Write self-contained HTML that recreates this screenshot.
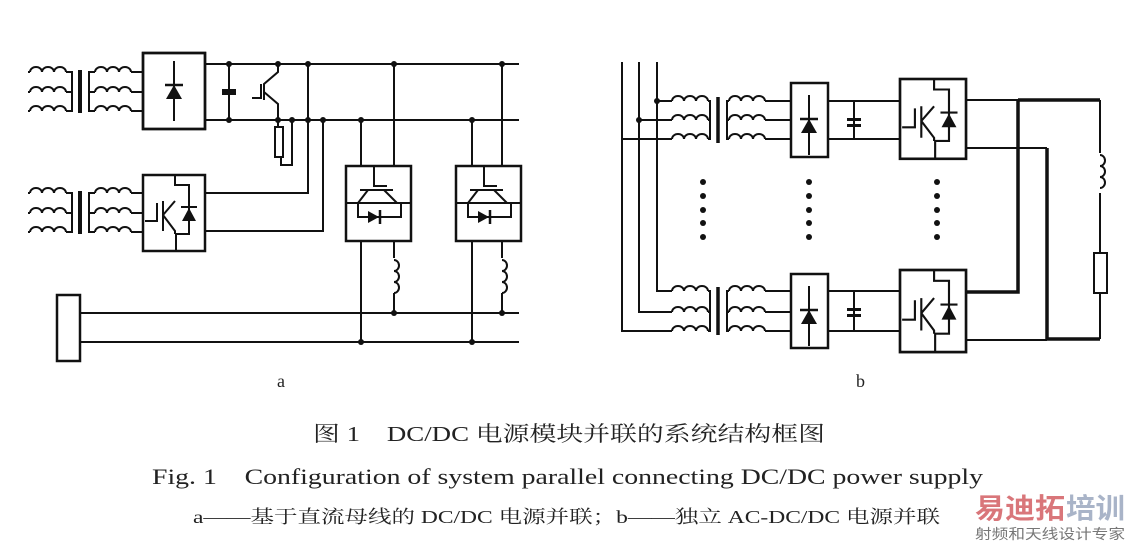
<!DOCTYPE html>
<html><head><meta charset="utf-8"><style>
html,body{margin:0;padding:0;background:#fff;}
svg{display:block}
text{font-family:"Liberation Serif","Noto Serif CJK SC",serif;fill:#222}
</style></head><body>
<svg width="1129" height="543" viewBox="0 0 1129 543" xmlns="http://www.w3.org/2000/svg">
<defs>
<g id="coil"><path d="M0 0 a6 5 0 0 1 12 0 a6 5 0 0 1 12 0 a6 5 0 0 1 12 0" fill="none" stroke="#111" stroke-width="2"/></g>
<g id="xfL">
 <!-- primary -->
 <path d="M0 0 h2 M0 20 h2 M0 39 h2" stroke="#111" stroke-width="2"/>
 <use href="#coil" x="2" y="0"/><use href="#coil" x="2" y="20"/><use href="#coil" x="2" y="39"/>
 <path d="M38 0 h6 v39 h-6 M38 20 h6" fill="none" stroke="#111" stroke-width="2"/>
 <path d="M52 -2 v43" stroke="#111" stroke-width="4"/>
 <path d="M67 0 h-6 v39 h6 M61 20 h6" fill="none" stroke="#111" stroke-width="2"/>
 <use href="#coil" x="67" y="0"/><use href="#coil" x="67" y="20"/><use href="#coil" x="67" y="39"/>
</g>
<g id="igbtbox">
 <rect x="0" y="0" width="62" height="76" fill="#fff" stroke="#111" stroke-width="2.5"/>
 <path d="M32 0 V10 H46 V59 H33 V76" fill="none" stroke="#111" stroke-width="2"/>
 <path d="M2 46 H14 V28 M20 26 V56 M20 40 L32 26 M20 40 L32 56 V59" fill="none" stroke="#111" stroke-width="2"/>
 <polygon points="39,46 53,46 46,33" fill="#111"/><path d="M38 32 H54" stroke="#111" stroke-width="2"/>
</g>
<g id="rect1">
 <path d="M0 0 V-30 M0 0 V30" stroke="#111" stroke-width="2"/>
 <polygon points="-8,8 8,8 0,-6" fill="#111"/><path d="M-9 -6 H9" stroke="#111" stroke-width="2.5"/>
</g>
<g id="conv">
 <rect x="0" y="0" width="65" height="75" fill="#fff" stroke="#111" stroke-width="2.5"/>
 <path d="M28 0 V20 H41 M14 24 H47 M22 24 L12 37 M38 24 L51 37 M0 37 H65 M12 37 V51 H55 V37" fill="none" stroke="#111" stroke-width="2"/>
 <polygon points="22,45 22,57 33,51" fill="#111"/><path d="M34 44 V58" stroke="#111" stroke-width="2.5"/>
</g>
<g id="ind"><path d="M0 0 a5 5.5 0 0 1 0 11 a5 5.5 0 0 1 0 11 a5 5.5 0 0 1 0 11" fill="none" stroke="#111" stroke-width="2"/></g>
</defs>

<g stroke="#111" stroke-width="2" fill="none">
<!-- LEFT DIAGRAM -->
<use href="#xfL" x="28" y="72"/>
<path d="M131 72 H143 M131 92 H143 M131 111 H143"/>
<use href="#xfL" x="28" y="193"/>
<path d="M131 193 H143 M131 213 H143 M131 232 H143"/>
<!-- buses -->
<path d="M205 64 H519 M205 120 H519"/>
<path d="M229 64 V120"/>
<!-- cap -->
<rect x="222" y="89" width="14" height="6" fill="#111" stroke="none"/>
<!-- igbt -->
<path d="M278 64 V72 L264 84 V100 M264 92 L278 104 V120 M252 98 H261 V84"/>
<!-- resistor -->
<path d="M278 120 V127 M281 157 V165 H292 V120"/>
<rect x="275" y="127" width="8" height="30"/>
<!-- box2 outputs -->
<path d="M205 193 H308 V64 M205 231 H323 V120"/>
<!-- converter connections -->
<path d="M361 120 V166 M394 64 V166 M472 120 V166 M502 64 V166"/>
<path d="M361 241 V342 M394 241 V258 M394 293 V313 M472 241 V342 M502 241 V258 M502 293 V313"/>
<path d="M80 313 H519 M80 342 H519"/>
<rect x="57" y="295" width="23" height="66" stroke-width="2.5"/>
</g>
<rect x="143" y="53" width="62" height="76" fill="#fff" stroke="#111" stroke-width="2.5"/>
<use href="#rect1" x="174" y="91"/>
<rect x="143" y="53" width="62" height="76" fill="none" stroke="#111" stroke-width="2.5"/>
<use href="#igbtbox" x="143" y="175"/>
<use href="#conv" x="346" y="166"/>
<use href="#conv" x="456" y="166"/>
<use href="#ind" x="394" y="260"/>
<use href="#ind" x="502" y="260"/>
<g fill="#111">
<circle cx="229" cy="64" r="3"/><circle cx="278" cy="64" r="3"/><circle cx="308" cy="64" r="3"/><circle cx="394" cy="64" r="3"/><circle cx="502" cy="64" r="3"/>
<circle cx="229" cy="120" r="3"/><circle cx="278" cy="120" r="3"/><circle cx="292" cy="120" r="3"/><circle cx="308" cy="120" r="3"/><circle cx="323" cy="120" r="3"/><circle cx="361" cy="120" r="3"/><circle cx="472" cy="120" r="3"/>
<circle cx="394" cy="313" r="3"/><circle cx="502" cy="313" r="3"/><circle cx="361" cy="342" r="3"/><circle cx="472" cy="342" r="3"/>
</g>
<text x="277" y="387" font-size="18">a</text>

<!-- RIGHT DIAGRAM -->
<g stroke="#111" stroke-width="2" fill="none">
<path d="M622 62 V331 H672 M639 62 V312 H672 M657 62 V291 H672"/>
<path d="M657 101 H672 M639 120 H672 M622 139 H672"/>
<path d="M765 101 H791 M765 120 H791 M765 139 H791 M765 291 H791 M765 312 H791 M765 331 H791"/>
<path d="M828 101 H900 M828 139 H900 M854 101 V139 M828 291 H900 M828 331 H900 M854 291 V331"/>
<path d="M966 100 H1018 M966 148 H1047 M966 340 H1047"/>
<path d="M1100 100 V153 M1100 193 V253 M1100 293 V339"/>
<rect x="1094" y="253" width="13" height="40"/>
</g>
<g stroke="#111" stroke-width="3.5" fill="none">
<path d="M1018 100 H1100 M1018 100 V292 H966 M1047 148 V339 H1100"/>
</g>
<g>
<use href="#coil" x="672" y="101"/><use href="#coil" x="672" y="120"/><use href="#coil" x="672" y="139"/>
<use href="#coil" x="729" y="101"/><use href="#coil" x="729" y="120"/><use href="#coil" x="729" y="139"/>
<use href="#coil" x="672" y="291"/><use href="#coil" x="672" y="312"/><use href="#coil" x="672" y="331"/>
<use href="#coil" x="729" y="291"/><use href="#coil" x="729" y="312"/><use href="#coil" x="729" y="331"/>
</g>
<g stroke="#111" stroke-width="2" fill="none">
<path d="M708 101 h2 v38 h-2 M708 120 h2 M729 101 h-2 v38 h2 M729 120 h-2"/>
<path d="M708 291 h2 v40 h-2 M708 312 h2 M729 291 h-2 v40 h2 M729 312 h-2"/>
<path d="M718 97 v46 M718 287 v48" stroke-width="3.5"/>
</g>
<rect x="791" y="83" width="37" height="74" fill="#fff" stroke="#111" stroke-width="2.5"/>
<use href="#rect1" x="809" y="125"/>
<rect x="791" y="274" width="37" height="74" fill="#fff" stroke="#111" stroke-width="2.5"/>
<use href="#rect1" x="809" y="316"/>
<g fill="#111"><rect x="847" y="118" width="14" height="3"/><rect x="847" y="124" width="14" height="3"/>
<rect x="847" y="308" width="14" height="3"/><rect x="847" y="314" width="14" height="3"/></g>
<use href="#igbtbox" x="900" y="79" transform="translate(900 79) scale(1.065 1.05) translate(-900 -79)"/>
<use href="#igbtbox" x="900" y="270" transform="translate(900 270) scale(1.065 1.08) translate(-900 -270)"/>
<use href="#ind" x="1100" y="155"/>
<g fill="#111">
<circle cx="657" cy="101" r="3"/><circle cx="639" cy="120" r="3"/>
<circle cx="703" cy="182" r="3"/><circle cx="703" cy="196" r="3"/><circle cx="703" cy="210" r="3"/><circle cx="703" cy="223" r="3"/><circle cx="703" cy="237" r="3"/>
<circle cx="809" cy="182" r="3"/><circle cx="809" cy="196" r="3"/><circle cx="809" cy="210" r="3"/><circle cx="809" cy="223" r="3"/><circle cx="809" cy="237" r="3"/>
<circle cx="937" cy="182" r="3"/><circle cx="937" cy="196" r="3"/><circle cx="937" cy="210" r="3"/><circle cx="937" cy="223" r="3"/><circle cx="937" cy="237" r="3"/>
</g>
<text x="856" y="387" font-size="18">b</text>

<!-- CAPTIONS -->
<text x="313" y="441" font-size="21" textLength="512" lengthAdjust="spacingAndGlyphs">图 1　DC/DC 电源模块并联的系统结构框图</text>
<text x="152" y="484" font-size="22" textLength="831" lengthAdjust="spacingAndGlyphs">Fig. 1　Configuration of system parallel connecting DC/DC power supply</text>
<text x="193" y="523" font-size="18" textLength="747" lengthAdjust="spacingAndGlyphs">a——基于直流母线的 DC/DC 电源并联；b——独立 AC-DC/DC 电源并联</text>
<text x="975" y="518" font-size="28" font-weight="bold" fill="#d9767a" style="fill:#d9767a;font-family:'Noto Sans CJK SC',sans-serif" textLength="90" lengthAdjust="spacingAndGlyphs">易迪拓</text>
<text x="1066" y="518" font-size="28" font-weight="bold" style="fill:#a9b4c8;font-family:'Noto Sans CJK SC',sans-serif" textLength="59" lengthAdjust="spacingAndGlyphs">培训</text>
<text x="975" y="539" font-size="14" style="fill:#777;font-family:'Noto Sans CJK SC',sans-serif" textLength="150" lengthAdjust="spacingAndGlyphs">射频和天线设计专家</text>
</svg>
</body></html>
